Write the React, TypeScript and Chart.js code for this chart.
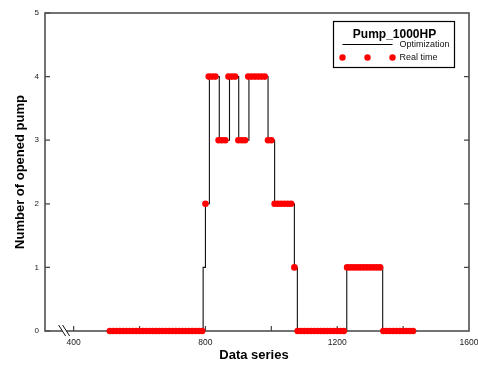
import React, { useEffect, useRef } from "react";
import { Chart, registerables } from "chart.js";

Chart.register(...registerables);

// ---- data ----
const realTimeX = [
  510, 520, 530, 540, 550, 560, 570, 580, 590, 600, 610, 620, 630, 640, 650,
  660, 670, 680, 690, 700, 710, 720, 730, 740, 750, 760, 770, 780, 790,
  800,
  810, 820, 830,
  840, 850, 860,
  870, 880, 890,
  900, 910, 920,
  930, 940, 950, 960, 970, 980,
  990, 1000,
  1010, 1020, 1030, 1040, 1050, 1060,
  1070,
  1080, 1090, 1100, 1110, 1120, 1130, 1140, 1150, 1160, 1170, 1180, 1190, 1200, 1210, 1220,
  1230, 1240, 1250, 1260, 1270, 1280, 1290, 1300, 1310, 1320, 1330,
  1340, 1350, 1360, 1370, 1380, 1390, 1400, 1410, 1420, 1430,
];
const realTimeY = [
  0, 0, 0, 0, 0, 0, 0, 0, 0, 0, 0, 0, 0, 0, 0,
  0, 0, 0, 0, 0, 0, 0, 0, 0, 0, 0, 0, 0, 0,
  2,
  4, 4, 4,
  3, 3, 3,
  4, 4, 4,
  3, 3, 3,
  4, 4, 4, 4, 4, 4,
  3, 3,
  2, 2, 2, 2, 2, 2,
  1,
  0, 0, 0, 0, 0, 0, 0, 0, 0, 0, 0, 0, 0, 0, 0,
  1, 1, 1, 1, 1, 1, 1, 1, 1, 1, 1,
  0, 0, 0, 0, 0, 0, 0, 0, 0, 0,
];

const optimizationX = [500, 793, 800, 812, 842, 873, 901, 932, 990, 1010, 1070, 1079, 1229, 1338, 1440];
const optimizationY = [0, 1, 2, 4, 3, 4, 3, 4, 3, 2, 1, 0, 1, 0, 0];

const xTickValues = [400, 600, 800, 1000, 1200, 1400, 1600];
const xLabelValues = [400, 800, 1200, 1600];
const xMin = 313;
const xMax = 1600;
const yMin = 0;
const yMax = 5;
const axisBreakValue = 371;

const legendTitle = "Pump_1000HP";
const seriesNames = ["Optimization", "Real time"];
const xTitle = "Data series";
const yTitle = "Number of opened pump";

const FONT = "'Liberation Sans', Arial, Helvetica, sans-serif";

const decorPlugin = {
  id: "decor",
  beforeDatasetsDraw(chart: any) {
    const ctx = chart.ctx as CanvasRenderingContext2D;
    const { left, right, top, bottom } = chart.chartArea;
    const xs = chart.scales.x;
    const ys = chart.scales.y;
    ctx.save();
    ctx.strokeStyle = "#444";
    ctx.lineWidth = 1.5;
    ctx.beginPath();
    ctx.moveTo(left, top);
    ctx.lineTo(right, top);
    ctx.lineTo(right, bottom);
    ctx.lineTo(left, bottom);
    ctx.closePath();
    ctx.stroke();

    // ticks (inward)
    ctx.lineWidth = 1.2;
    ctx.beginPath();
    for (let v = yMin; v <= yMax; v++) {
      const py = ys.getPixelForValue(v);
      ctx.moveTo(left, py);
      ctx.lineTo(left + 5, py);
      if (v > yMin && v < yMax) {
        ctx.moveTo(right, py);
        ctx.lineTo(right - 5, py);
      }
    }
    for (const v of xTickValues) {
      if (v >= xMax) continue;
      const px = xs.getPixelForValue(v);
      ctx.moveTo(px, bottom);
      ctx.lineTo(px, bottom - 5);
    }
    ctx.stroke();

    // axis break
    const bx = xs.getPixelForValue(axisBreakValue);
    const by = bottom;
    ctx.fillStyle = "#fff";
    ctx.beginPath();
    ctx.moveTo(bx - 5.5, by - 6);
    ctx.lineTo(bx - 1.5, by - 6);
    ctx.lineTo(bx + 5.5, by + 5);
    ctx.lineTo(bx + 1.5, by + 5);
    ctx.closePath();
    ctx.fill();
    ctx.strokeStyle = "#111";
    ctx.lineWidth = 1;
    ctx.beginPath();
    ctx.moveTo(bx - 5.5, by - 6);
    ctx.lineTo(bx + 1.5, by + 5);
    ctx.moveTo(bx - 1.5, by - 6);
    ctx.lineTo(bx + 5.5, by + 5);
    ctx.stroke();
    ctx.restore();
  },
  afterDraw(chart: any) {
    const ctx = chart.ctx as CanvasRenderingContext2D;
    const { left, right, top, bottom } = chart.chartArea;
    ctx.save();
    // axis titles
    ctx.fillStyle = "#000";
    ctx.font = `bold 13px ${FONT}`;
    ctx.textAlign = "center";
    ctx.textBaseline = "alphabetic";
    ctx.fillText(xTitle, 254, 359);
    ctx.save();
    ctx.translate(24, (top + bottom) / 2);
    ctx.rotate(-Math.PI / 2);
    ctx.fillText(yTitle, 0, 0);
    ctx.restore();

    // legend box
    const bx = right - 135.5;
    const by = top + 8.5;
    const bw = 121;
    const bh = 46;
    ctx.fillStyle = "#fff";
    ctx.fillRect(bx, by, bw, bh);
    ctx.strokeStyle = "#000";
    ctx.lineWidth = 1.2;
    ctx.strokeRect(bx, by, bw, bh);

    ctx.fillStyle = "#000";
    ctx.font = `bold 12px ${FONT}`;
    ctx.textAlign = "center";
    ctx.textBaseline = "alphabetic";
    ctx.fillText(legendTitle, bx + 61, by + 16);

    const sx0 = bx + 9;
    const sx1 = bx + 59;
    const ly1 = by + 23;
    const ly2 = by + 36;
    ctx.strokeStyle = "#000";
    ctx.lineWidth = 1;
    ctx.beginPath();
    ctx.moveTo(sx0, ly1);
    ctx.lineTo(sx1, ly1);
    ctx.stroke();
    ctx.fillStyle = "#ff0000";
    for (const px of [sx0, (sx0 + sx1) / 2, sx1]) {
      ctx.beginPath();
      ctx.arc(px, ly2, 3.2, 0, Math.PI * 2);
      ctx.fill();
    }
    ctx.fillStyle = "#111";
    ctx.font = `9px ${FONT}`;
    ctx.textAlign = "left";
    ctx.textBaseline = "middle";
    ctx.fillText(seriesNames[0], sx1 + 7, ly1 + 0.5);
    ctx.fillText(seriesNames[1], sx1 + 7, ly2 + 0.5);
    ctx.restore();
  },
};

export default function App() {
  const canvasRef = useRef<HTMLCanvasElement | null>(null);

  useEffect(() => {
    if (!canvasRef.current) return;
    const realData = realTimeX.map((x, i) => ({ x, y: realTimeY[i] }));
    const optData = optimizationX.map((x, i) => ({ x, y: optimizationY[i] }));
    const chart = new Chart(canvasRef.current, {
      type: "scatter",
      data: {
        datasets: [
          {
            label: seriesNames[1],
            data: realData,
            showLine: false,
            pointRadius: 3.3,
            pointHoverRadius: 3.3,
            pointBackgroundColor: "#ff0000",
            pointBorderWidth: 0,
            pointBorderColor: "#ff0000",
            clip: false,
            order: 0,
          } as any,
          {
            label: seriesNames[0],
            data: optData,
            showLine: true,
            stepped: true,
            borderColor: "#111",
            borderWidth: 1.1,
            pointRadius: 0,
            clip: false,
            order: 1,
          } as any,
        ],
      },
      options: {
        animation: false,
        responsive: true,
        maintainAspectRatio: false,
        layout: { padding: { top: 13, right: 9, left: 0, bottom: 0 } },
        plugins: { legend: { display: false }, tooltip: { enabled: false } },
        scales: {
          x: {
            type: "linear",
            min: xMin,
            max: xMax,
            grid: { display: false, drawTicks: false },
            border: { display: false },
            afterBuildTicks: (s: any) => {
              s.ticks = xTickValues.map((v) => ({ value: v }));
            },
            afterFit: (s: any) => {
              s.height = 34;
              s.paddingLeft = 0;
              s.paddingRight = 0;
            },
            ticks: {
              autoSkip: false,
              maxRotation: 0,
              padding: 7,
              color: "#222",
              font: { family: FONT, size: 8.5 },
              callback: (v: any) => (xLabelValues.includes(Number(v)) ? String(v) : ""),
            },
          },
          y: {
            type: "linear",
            min: yMin,
            max: yMax,
            grid: { display: false, drawTicks: false },
            border: { display: false },
            afterFit: (s: any) => {
              s.width = 45;
              s.paddingTop = 0;
              s.paddingBottom = 0;
            },
            ticks: {
              stepSize: 1,
              padding: 6,
              color: "#222",
              font: { family: FONT, size: 8 },
            },
          },
        },
      } as any,
      plugins: [decorPlugin],
    });
    return () => chart.destroy();
  }, []);

  return (
    <div style={{ position: "absolute", left: 0, top: 0, width: 478, height: 365, background: "#fff" }}>
      <canvas ref={canvasRef} />
    </div>
  );
}
